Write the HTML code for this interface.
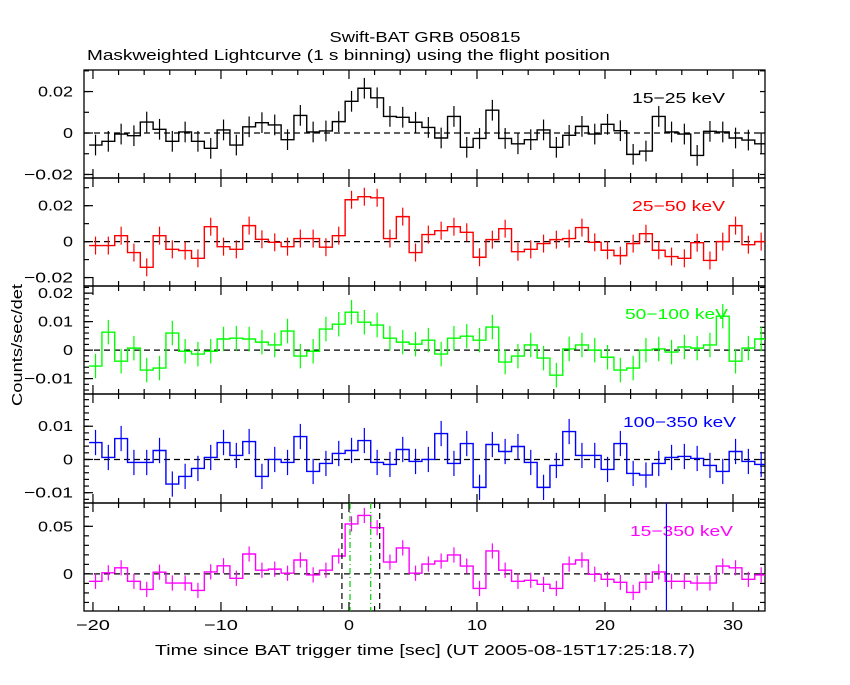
<!DOCTYPE html>
<html><head><meta charset="utf-8"><style>
body{margin:0;background:#fff;width:850px;height:680px;overflow:hidden}
svg text{font-family:"Liberation Sans",sans-serif;font-size:15px}
</style></head><body>
<svg id="chart" width="850" height="680" xmlns="http://www.w3.org/2000/svg">
<text x="425" y="42" text-anchor="middle" textLength="191" lengthAdjust="spacingAndGlyphs">Swift-BAT GRB 050815</text>
<text x="87" y="60" textLength="523" lengthAdjust="spacingAndGlyphs">Maskweighted Lightcurve (1 s binning) using the flight position</text>
<text x="0" y="0" text-anchor="middle" textLength="122" lengthAdjust="spacingAndGlyphs" transform="translate(22,345) rotate(-90)">Counts/sec/det</text>
<text x="425" y="655" text-anchor="middle" textLength="540" lengthAdjust="spacingAndGlyphs">Time since BAT trigger time [sec] (UT 2005-08-15T17:25:18.7)</text>
</svg>
<script>
const binStart = -19.8;
const band1 = [-0.0058,-0.004,-0.0005,-0.0013,0.0053,0.0018,-0.004,0.0005,-0.004,-0.0074,0.0015,-0.0058,0.003,0.005,0.0039,-0.0032,0.0085,0.0005,0.001,0.0055,0.0153,0.0216,0.017,0.008,0.0076,0.0052,0.0027,-0.0024,0.008,-0.0069,-0.0026,0.011,-0.0026,-0.0052,-0.0032,0.0015,-0.0069,-0.0011,0.0032,-0.0005,0.0042,0.0011,-0.0103,-0.0087,0.008,0.0005,-0.0005,-0.0108,0.0008,0.0005,-0.0024,-0.0034,-0.0052];
const band2 = [-0.0022,-0.0022,0.0033,-0.0061,-0.0143,0.0033,-0.0043,-0.005,-0.0093,0.0083,-0.0028,-0.0043,0.0089,0.0013,-0.0004,-0.0028,0.0017,0.0017,-0.0031,0.0033,0.0233,0.025,0.0244,0.0017,0.0139,-0.0061,0.0039,0.0061,0.0083,0.0052,-0.0087,0.0011,0.0072,-0.0056,-0.0043,-0.0011,0.0011,0.0017,0.0078,-0.0004,-0.0048,-0.0078,-0.0011,0.0044,-0.0048,-0.0083,-0.0093,-0.0006,-0.0105,0,0.0089,-0.0017,0];
const band3 = [-0.0056,0.0063,-0.0039,0.0007,-0.007,-0.0063,0.006,-0.0004,-0.0014,-0.0004,0.0039,0.0042,0.0039,0.0028,0.0018,0.0067,-0.0021,-0.0004,0.0074,0.0091,0.0133,0.0098,0.0088,0.0042,0.0028,0.0021,0.0035,-0.0014,0.0042,0.0049,0.0035,0.0081,-0.0042,-0.0021,0.0018,-0.0028,-0.0088,0.0004,0.0018,0,-0.0025,-0.007,-0.0063,0,0.0004,-0.0007,0.0011,0.0007,0.0018,0.0119,-0.0039,0.0007,0.0039];
const band4 = [0.0051,0.0006,0.0063,-0.0009,-0.0009,0.0027,-0.0074,-0.0051,-0.0027,0.0006,0.0051,0.0012,0.0054,-0.0051,0,-0.0009,0.0069,-0.0036,-0.0012,0.0018,0.0027,0.0057,-0.0009,-0.0015,0.003,-0.0006,0,0.0078,-0.0012,0.0048,-0.0084,0.0045,0.0024,0.0039,-0.0009,-0.0084,-0.0018,0.0084,0.0012,0.0012,-0.003,0.0048,-0.0042,-0.0047,-0.0012,0.0006,0.0009,0.0003,-0.0018,-0.0036,0.0024,-0.0006,-0.0015];
const band5 = [-0.0078,0.0011,0.0064,-0.0078,-0.0163,0.0018,-0.0096,-0.0096,-0.0174,0.0021,0.0085,-0.0046,0.0209,0.0039,0.005,0.0007,0.0146,-0.0011,0.0039,0.0188,0.0525,0.0614,0.0486,0.0124,0.0273,0.0007,0.0103,0.0135,0.0199,0.0082,-0.0153,0.0241,0.0039,-0.0078,-0.0067,-0.011,-0.0153,0.0103,0.0146,-0.0004,-0.0057,-0.0089,-0.0195,-0.0089,0.0021,-0.0078,-0.0078,-0.0096,-0.0096,0.0082,0.0064,-0.0057,-0.0011];
const bandErr = [0.005,0.005,0.0043,0.0038,0.008];
const bandLabels = ["15-25 keV","25-50 keV","50-100 keV","100-350 keV","15-350 keV"];
const yTickLabels = [["0.02","0","-0.02"],["0.02","0","-0.02"],["0.02","0.01","0","-0.01"],["0.01","0","-0.01"],["0.05","0"]];
const yTickValues = [[0.02,0,-0.02],[0.02,0,-0.02],[0.02,0.01,0,-0.01],[0.01,0,-0.01],[0.05,0]];
const xTickValues = [-20,-10,0,10,20,30];
const markerBlackDashed = [-0.55,2.4];
const markerGreenDashDot = [0.08,1.7];
const markerBlue = [24.8];

const allBands=[band1,band2,band3,band4,band5];
const colors=["#000","#f00","#0f0","#00f","#f0f"];
const panels=[{top:70,bot:178,ymax:0.0304,ymin:-0.0217,minor:0.01},
{top:178,bot:286,ymax:0.0354,ymin:-0.0247,minor:0.01},
{top:286,bot:394,ymax:0.0225,ymin:-0.0154,minor:0.002},
{top:394,bot:503,ymax:0.0197,ymin:-0.0131,minor:0.002},
{top:503,bot:611,ymax:0.0745,ymin:-0.039,minor:0.01}];
const X0=84,X1=765,TMIN=-20.7,TMAX=32.5;
const svg=document.getElementById('chart');
const NS="http://www.w3.org/2000/svg";
function xs(t){return X0+(t-TMIN)/(TMAX-TMIN)*(X1-X0);}
function mk(tag,attrs){const e=document.createElementNS(NS,tag);for(const k in attrs)e.setAttribute(k,attrs[k]);svg.appendChild(e);return e;}
function cl(v){return Math.max(X0,Math.min(X1,v));}
function tw(s){let w=0;for(const c of s){w+=(c==='.')?5:(c==='\u2212')?14:(c===' ')?9:10;}return w;}
panels.forEach((p,i)=>{
  const ys=v=>p.top+(p.ymax-v)/(p.ymax-p.ymin)*(p.bot-p.top);
  const fr=mk('rect',{x:X0,y:p.top,width:X1-X0,height:p.bot-p.top,fill:'none',stroke:'#000','stroke-width':1.3});
  
  
  for(let t=-20;t<=32;t+=2){const x=xs(t);const L=(t%10===0)?9:5;
    const a=mk('line',{x1:x,x2:x,y1:p.top,y2:p.top+L,stroke:'#000','stroke-width':1.2});
    
    
    const b=mk('line',{x1:x,x2:x,y1:p.bot,y2:p.bot-L,stroke:'#000','stroke-width':1.2});
    
    }
  for(let v=Math.ceil(p.ymin/p.minor)*p.minor;v<=p.ymax;v+=p.minor){const y=ys(v);
    const a=mk('line',{x1:X0,x2:X0+5,y1:y,y2:y,stroke:'#000','stroke-width':1.2});
    
    
    const b=mk('line',{x1:X1,x2:X1-5,y1:y,y2:y,stroke:'#000','stroke-width':1.2});
    
    }
  yTickValues[i].forEach((v,j)=>{const y=ys(v);
    const a=mk('line',{x1:X0,x2:X0+9,y1:y,y2:y,stroke:'#000','stroke-width':1.2});
    
    
    const s=yTickLabels[i][j].replace('-','\u2212');
    const tx=mk('text',{x:73,y:y+5,'text-anchor':'end',textLength:tw(s),lengthAdjust:'spacingAndGlyphs'});tx.textContent=s;
    
    });
  const z=mk('line',{x1:X0,x2:X1,y1:ys(0),y2:ys(0),stroke:'#000','stroke-width':1.2,'stroke-dasharray':'6,4'});
  
  
  const d=allBands[i];let path='';
  d.forEach((v,k)=>{const t=binStart+k;const xa=cl(xs(t-0.5)),xb=cl(xs(t+0.5));const y=ys(v);
    path+=(k===0?'M':'L')+xa+','+y+'L'+xb+','+y;
    const eb=mk('line',{x1:xs(t),x2:xs(t),y1:ys(v+bandErr[i]),y2:ys(v-bandErr[i]),stroke:colors[i],'stroke-width':1.2});
    
    });
  const pl=mk('path',{d:path,fill:'none',stroke:colors[i],'stroke-width':1.4});
  
  
  const ls=bandLabels[i].replace('-','\u2212');
  const lb=mk('text',{x:i===3?736:(i===2?728:(i===4?733:725)),y:p.top+33,'text-anchor':'end',fill:colors[i],textLength:tw(ls),lengthAdjust:'spacingAndGlyphs'});lb.textContent=ls;
  
  
  if(i===4){
    markerBlackDashed.forEach(t=>{const l=mk('line',{x1:xs(t),x2:xs(t),y1:p.top,y2:p.bot,stroke:'#000','stroke-width':1.2,'stroke-dasharray':'6,4'});
      
      });
    markerGreenDashDot.forEach(t=>{const l=mk('line',{x1:xs(t),x2:xs(t),y1:p.top,y2:p.bot,stroke:'#0c0','stroke-width':1.2,'stroke-dasharray':'6,3,1,3'});
      
      });
    markerBlue.forEach(t=>{const l=mk('line',{x1:xs(t),x2:xs(t),y1:p.top,y2:p.bot,stroke:'#00f','stroke-width':1.2});
      
      });
    xTickValues.forEach(t=>{const s=String(t).replace('-','\u2212');const tx=mk('text',{x:xs(t),y:630,'text-anchor':'middle',textLength:tw(s),lengthAdjust:'spacingAndGlyphs'});tx.textContent=s;
      
      });
  }
});
</script>
</body></html>
